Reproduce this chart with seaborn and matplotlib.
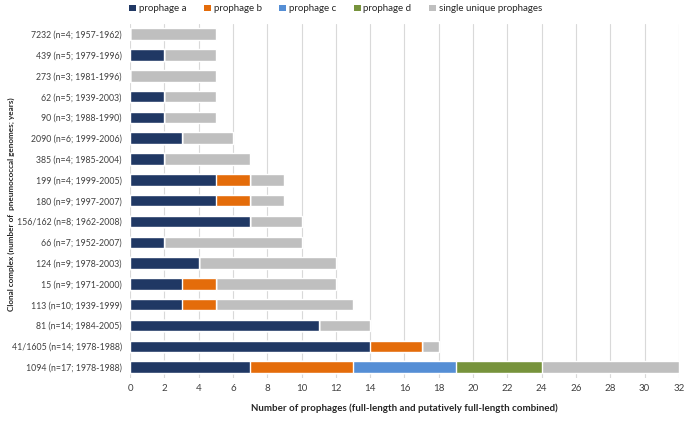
import numpy as np
import pandas as pd
import matplotlib
matplotlib.use('Agg')
import matplotlib.pyplot as plt
from matplotlib.patches import Patch
import seaborn as sns

# Data, top to bottom as shown in the chart
clones = ['7232 (n=4; 1957-1962)', '439 (n=5; 1979-1996)', '273 (n=3; 1981-1996)',
          '62 (n=5; 1939-2003)', '90 (n=3; 1988-1990)', '2090 (n=6; 1999-2006)',
          '385 (n=4; 1985-2004)', '199 (n=4; 1999-2005)', '180 (n=9; 1997-2007)',
          '156/162 (n=8; 1962-2008)', '66 (n=7; 1952-2007)', '124 (n=9; 1978-2003)',
          '15 (n=9; 1971-2000)', '113 (n=10; 1939-1999)', '81 (n=14; 1984-2005)',
          '41/1605 (n=14; 1978-1988)', '1094 (n=17; 1978-1988)']
prophage_a = [0, 2, 0, 2, 2, 3, 2, 5, 5, 7, 2, 4, 3, 3, 11, 14, 7]
prophage_b = [0, 0, 0, 0, 0, 0, 0, 2, 2, 0, 0, 0, 2, 2, 0, 3, 6]
prophage_c = [0, 0, 0, 0, 0, 0, 0, 0, 0, 0, 0, 0, 0, 0, 0, 0, 6]
prophage_d = [0, 0, 0, 0, 0, 0, 0, 0, 0, 0, 0, 0, 0, 0, 0, 0, 5]
unique = [5, 3, 5, 3, 3, 3, 5, 2, 2, 3, 8, 8, 7, 8, 3, 1, 8]

series = ['prophage a', 'prophage b', 'prophage c', 'prophage d', 'single unique prophages']
colors = ['#203864', '#E46C0A', '#558ED5', '#77933C', '#BFBFBF']

df = pd.DataFrame({'clone': clones, 'prophage a': prophage_a, 'prophage b': prophage_b,
                   'prophage c': prophage_c, 'prophage d': prophage_d,
                   'single unique prophages': unique})
cum = df[series].cumsum(axis=1)

sns.set_style('white')
plt.rcParams['font.family'] = ['Lato', 'DejaVu Sans']

fig, ax = plt.subplots(figsize=(6.85, 4.40), dpi=100)
fig.subplots_adjust(left=0.19, right=0.991, top=0.946, bottom=0.142)

# stacked bars: draw cumulative totals from the outermost layer inward
for name, col in zip(series[::-1], colors[::-1]):
    sns.barplot(x=cum[name], y=df['clone'], orient='h', color=col, width=0.55,
                saturation=1, ax=ax, order=clones)

ax.set_xlim(0, 32)
ax.set_xticks(np.arange(0, 33, 2))
ax.xaxis.grid(True, color='#D9D9D9', linewidth=0.8)
ax.set_axisbelow(True)
for s in ax.spines.values():
    s.set_visible(False)
ax.tick_params(axis='x', length=0, labelsize=7, colors='#404040', pad=5)
ax.tick_params(axis='y', length=0, labelsize=6.3, colors='#404040', pad=6)

ax.set_xlabel('Number of prophages (full-length and putatively full-length combined)',
              fontsize=7, fontweight='bold', color='#262626', labelpad=7)
ax.set_ylabel('Clonal complex (number of  pneumococcal genomes; years)',
              fontsize=5.9, fontweight='bold', color='#262626')
ax.yaxis.set_label_coords(-0.21, 0.49)

handles = [Patch(facecolor=c, edgecolor='none', label=s) for s, c in zip(series, colors)]
fig.legend(handles=handles, loc='upper center', bbox_to_anchor=(0.49, 1.01), ncol=5,
           frameon=False, fontsize=7, handlelength=0.7, handleheight=0.7,
           handletextpad=0.3, columnspacing=1.8)

fig.savefig('out.png', dpi=100)
